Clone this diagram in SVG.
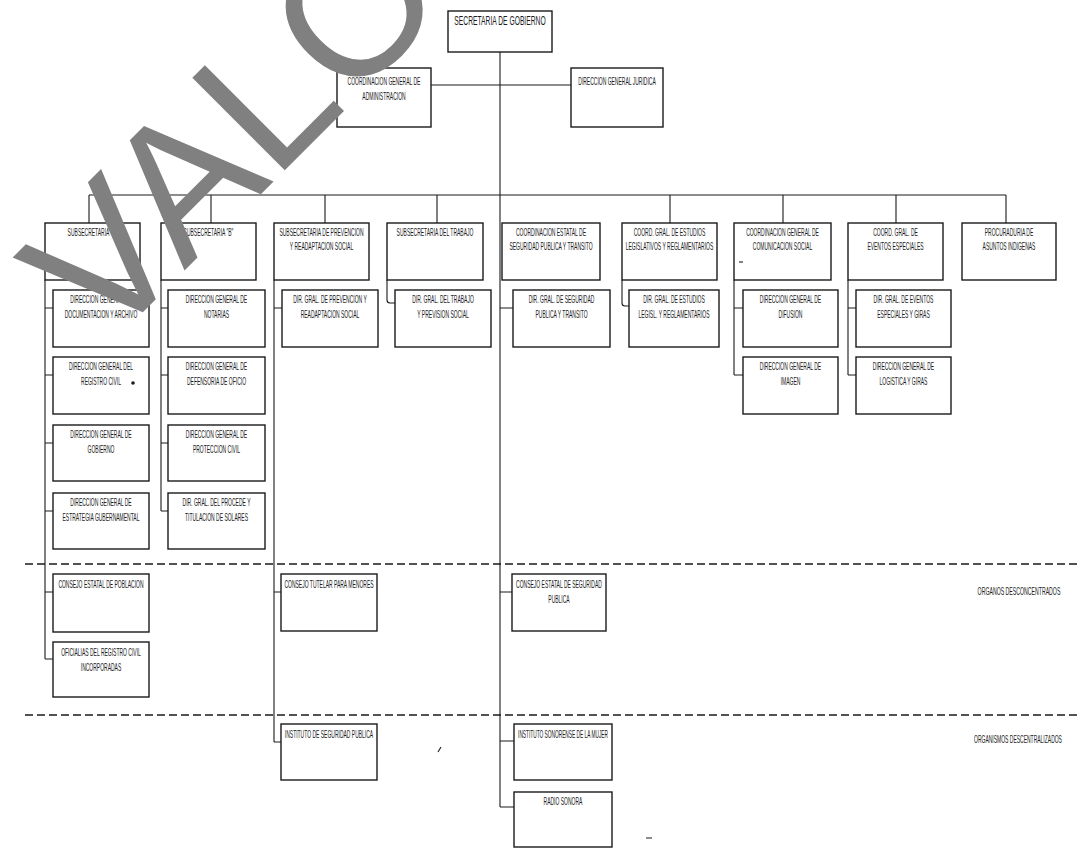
<svg xmlns="http://www.w3.org/2000/svg" width="1081" height="848" viewBox="0 0 1081 848">
<style>
.box{fill:#fff;stroke:#1a1a1a;stroke-width:1.4}
.t{font-family:"Liberation Sans",Arial,sans-serif;font-size:10px;fill:#1a1a1a;text-anchor:middle}
.ln{fill:none;stroke:#1a1a1a;stroke-width:1.1}
.dash{fill:none;stroke:#1a1a1a;stroke-width:1.4;stroke-dasharray:8 4}
.wm{font-family:"Liberation Sans",Arial,sans-serif;font-size:190px;fill:#808080}
</style>
<rect x="0" y="0" width="1081" height="848" fill="#fff"/>
<g id="connectors">
<path class="ln" d="M500,52 V807"/>
<path class="ln" d="M431,85 H571"/>
<path class="ln" d="M89,195 H1006"/>
<path class="ln" d="M89,195 V223 M211,195 V223 M325,195 V223 M437,195 V223 M670,195 V223 M783,195 V223 M896,195 V223 M1006,195 V223"/>
<path class="ln" d="M45,280 V659 M45,308 H53 M45,375 H53 M45,443 H53 M45,511 H53 M45,592 H53 M45,659 H53"/>
<path class="ln" d="M161,280 V511 M161,308 H168 M161,375 H168 M161,443 H168 M161,511 H168"/>
<path class="ln" d="M274,280 V742 M274,308 H282 M274,592 H281 M274,742 H281"/>
<path class="ln" d="M387,280 V300 Q387,303 390,303 H395"/>
<path class="ln" d="M500,308 H513 M500,592 H512 M500,741 H514 M500,807 H514"/>
<path class="ln" d="M622,280 V303 Q622,306 625,306 H629"/>
<path class="ln" d="M734,280 V375 M734,308 H743 M734,375 H743"/>
<path class="ln" d="M848,280 V375 M848,308 H856 M848,375 H856"/>
<path class="dash" d="M25,564 H1081"/>
<path class="dash" d="M25,715 H1081"/>
</g>
<g id="n-sg"><rect class="box" x="448" y="11" width="104" height="41"/><text class="t" x="500" y="25" style="font-size:12px" transform="matrix(.56 0 0 1 220 0)">SECRETARIA DE GOBIERNO</text></g>
<g id="n-cga"><rect class="box" x="337" y="68" width="94" height="59"/><text class="t" x="384" y="85" transform="matrix(.5 0 0 1 192 0)">COORDINACION GENERAL DE</text><text class="t" x="384" y="100" transform="matrix(.5 0 0 1 192 0)">ADMINISTRACION</text></g>
<g id="n-dgj"><rect class="box" x="571" y="68" width="92" height="59"/><text class="t" x="617" y="85" transform="matrix(.5 0 0 1 308.5 0)">DIRECCION GENERAL JURIDICA</text></g>
<g id="n-ssa"><rect class="box" x="45" y="223" width="95" height="57"/><text class="t" x="92.5" y="236" transform="matrix(.5 0 0 1 46.25 0)">SUBSECRETARIA "A"</text></g>
<g id="n-ssb"><rect class="box" x="161" y="223" width="95" height="57"/><text class="t" x="208.5" y="236" transform="matrix(.5 0 0 1 104.25 0)">SUBSECRETARIA "B"</text></g>
<g id="n-sspr"><rect class="box" x="274" y="223" width="95" height="57"/><text class="t" x="321.5" y="236" transform="matrix(.5 0 0 1 160.75 0)">SUBSECRETARIA DE PREVENCION</text><text class="t" x="321.5" y="250" transform="matrix(.5 0 0 1 160.75 0)">Y READAPTACION SOCIAL</text></g>
<g id="n-sst"><rect class="box" x="387" y="223" width="96" height="57"/><text class="t" x="435" y="236" transform="matrix(.5 0 0 1 217.5 0)">SUBSECRETARIA DEL TRABAJO</text></g>
<g id="n-cesp"><rect class="box" x="502" y="223" width="98" height="57"/><text class="t" x="551" y="236" transform="matrix(.5 0 0 1 275.5 0)">COORDINACION ESTATAL DE</text><text class="t" x="551" y="250" transform="matrix(.5 0 0 1 275.5 0)">SEGURIDAD PUBLICA Y TRANSITO</text></g>
<g id="n-cgel"><rect class="box" x="622" y="223" width="95" height="57"/><text class="t" x="669.5" y="236" transform="matrix(.5 0 0 1 334.75 0)">COORD. GRAL. DE ESTUDIOS</text><text class="t" x="669.5" y="250" transform="matrix(.5 0 0 1 334.75 0)">LEGISLATIVOS Y REGLAMENTARIOS</text></g>
<g id="n-cgcs"><rect class="box" x="734" y="223" width="97" height="57"/><text class="t" x="782.5" y="236" transform="matrix(.5 0 0 1 391.25 0)">COORDINACION GENERAL DE</text><text class="t" x="782.5" y="250" transform="matrix(.5 0 0 1 391.25 0)">COMUNICACION SOCIAL</text><path class="ln" d="M739,262 H743"/></g>
<g id="n-cgee"><rect class="box" x="848" y="223" width="95" height="57"/><text class="t" x="895.5" y="236" transform="matrix(.5 0 0 1 447.75 0)">COORD. GRAL. DE</text><text class="t" x="895.5" y="250" transform="matrix(.5 0 0 1 447.75 0)">EVENTOS ESPECIALES</text></g>
<g id="n-pai"><rect class="box" x="962" y="223" width="94" height="57"/><text class="t" x="1009" y="236" transform="matrix(.5 0 0 1 504.5 0)">PROCURADURIA DE</text><text class="t" x="1009" y="250" transform="matrix(.5 0 0 1 504.5 0)">ASUNTOS INDIGENAS</text></g>
<g id="n-dgda"><rect class="box" x="53" y="290" width="96" height="57"/><text class="t" x="101" y="303" transform="matrix(.5 0 0 1 50.5 0)">DIRECCION GENERAL DE</text><text class="t" x="101" y="318" transform="matrix(.5 0 0 1 50.5 0)">DOCUMENTACION Y ARCHIVO</text></g>
<g id="n-dgrc"><rect class="box" x="53" y="357" width="96" height="57"/><text class="t" x="101" y="370" transform="matrix(.5 0 0 1 50.5 0)">DIRECCION GENERAL DEL</text><text class="t" x="101" y="385" transform="matrix(.5 0 0 1 50.5 0)">REGISTRO CIVIL</text><circle cx="133" cy="383" r="1.8" fill="#1a1a1a"/></g>
<g id="n-dgg"><rect class="box" x="53" y="425" width="96" height="56"/><text class="t" x="101" y="438" transform="matrix(.5 0 0 1 50.5 0)">DIRECCION GENERAL DE</text><text class="t" x="101" y="453" transform="matrix(.5 0 0 1 50.5 0)">GOBIERNO</text></g>
<g id="n-dgeg"><rect class="box" x="53" y="493" width="96" height="56"/><text class="t" x="101" y="506" transform="matrix(.5 0 0 1 50.5 0)">DIRECCION GENERAL DE</text><text class="t" x="101" y="521" transform="matrix(.5 0 0 1 50.5 0)">ESTRATEGIA GUBERNAMENTAL</text></g>
<g id="n-cep"><rect class="box" x="53" y="574" width="96" height="58"/><text class="t" x="101" y="588" transform="matrix(.5 0 0 1 50.5 0)">CONSEJO ESTATAL DE POBLACION</text></g>
<g id="n-orc"><rect class="box" x="53" y="642" width="96" height="55"/><text class="t" x="101" y="656" transform="matrix(.5 0 0 1 50.5 0)">OFICIALIAS DEL REGISTRO CIVIL</text><text class="t" x="101" y="671" transform="matrix(.5 0 0 1 50.5 0)">INCORPORADAS</text></g>
<g id="n-dgn"><rect class="box" x="168" y="290" width="97" height="57"/><text class="t" x="216.5" y="303" transform="matrix(.5 0 0 1 108.25 0)">DIRECCION GENERAL DE</text><text class="t" x="216.5" y="318" transform="matrix(.5 0 0 1 108.25 0)">NOTARIAS</text></g>
<g id="n-dgdo"><rect class="box" x="168" y="357" width="97" height="57"/><text class="t" x="216.5" y="370" transform="matrix(.5 0 0 1 108.25 0)">DIRECCION GENERAL DE</text><text class="t" x="216.5" y="385" transform="matrix(.5 0 0 1 108.25 0)">DEFENSORIA DE OFICIO</text></g>
<g id="n-dgpc"><rect class="box" x="168" y="425" width="97" height="56"/><text class="t" x="216.5" y="438" transform="matrix(.5 0 0 1 108.25 0)">DIRECCION GENERAL DE</text><text class="t" x="216.5" y="453" transform="matrix(.5 0 0 1 108.25 0)">PROTECCION CIVIL</text></g>
<g id="n-dgpts"><rect class="box" x="168" y="493" width="97" height="56"/><text class="t" x="216.5" y="506" transform="matrix(.5 0 0 1 108.25 0)">DIR. GRAL. DEL PROCEDE Y</text><text class="t" x="216.5" y="521" transform="matrix(.5 0 0 1 108.25 0)">TITULACION DE SOLARES</text></g>
<g id="n-dgprs"><rect class="box" x="282" y="290" width="96" height="57"/><text class="t" x="330" y="303" transform="matrix(.5 0 0 1 165 0)">DIR. GRAL. DE PREVENCION Y</text><text class="t" x="330" y="318" transform="matrix(.5 0 0 1 165 0)">READAPTACION SOCIAL</text></g>
<g id="n-ctm"><rect class="box" x="281" y="574" width="96" height="57"/><text class="t" x="329" y="588" transform="matrix(.5 0 0 1 164.5 0)">CONSEJO TUTELAR PARA MENORES</text></g>
<g id="n-isp"><rect class="box" x="281" y="724" width="96" height="56"/><text class="t" x="329" y="738" transform="matrix(.5 0 0 1 164.5 0)">INSTITUTO DE SEGURIDAD PUBLICA</text></g>
<g id="n-dgtps"><rect class="box" x="395" y="290" width="96" height="57"/><text class="t" x="443" y="303" transform="matrix(.5 0 0 1 221.5 0)">DIR. GRAL. DEL TRABAJO</text><text class="t" x="443" y="318" transform="matrix(.5 0 0 1 221.5 0)">Y PREVISION SOCIAL</text></g>
<g id="n-dgspt"><rect class="box" x="513" y="290" width="97" height="57"/><text class="t" x="561.5" y="303" transform="matrix(.5 0 0 1 280.75 0)">DIR. GRAL. DE SEGURIDAD</text><text class="t" x="561.5" y="318" transform="matrix(.5 0 0 1 280.75 0)">PUBLICA Y TRANSITO</text></g>
<g id="n-cesp2"><rect class="box" x="512" y="574" width="94" height="57"/><text class="t" x="559" y="588" transform="matrix(.5 0 0 1 279.5 0)">CONSEJO ESTATAL DE SEGURIDAD</text><text class="t" x="559" y="603" transform="matrix(.5 0 0 1 279.5 0)">PUBLICA</text></g>
<g id="n-ism"><rect class="box" x="514" y="724" width="98" height="56"/><text class="t" x="563" y="738" transform="matrix(.48 0 0 1 292.76 0)">INSTITUTO SONORENSE DE LA MUJER</text></g>
<g id="n-rs"><rect class="box" x="514" y="792" width="98" height="55"/><text class="t" x="563" y="805" transform="matrix(.5 0 0 1 281.5 0)">RADIO SONORA</text></g>
<g id="n-dgelr"><rect class="box" x="629" y="290" width="90" height="57"/><text class="t" x="674" y="303" transform="matrix(.5 0 0 1 337 0)">DIR. GRAL. DE ESTUDIOS</text><text class="t" x="674" y="318" transform="matrix(.5 0 0 1 337 0)">LEGISL. Y REGLAMENTARIOS</text></g>
<g id="n-dgdif"><rect class="box" x="743" y="290" width="95" height="57"/><text class="t" x="790.5" y="303" transform="matrix(.5 0 0 1 395.25 0)">DIRECCION GENERAL DE</text><text class="t" x="790.5" y="318" transform="matrix(.5 0 0 1 395.25 0)">DIFUSION</text></g>
<g id="n-dgim"><rect class="box" x="743" y="357" width="95" height="57"/><text class="t" x="790.5" y="370" transform="matrix(.5 0 0 1 395.25 0)">DIRECCION GENERAL DE</text><text class="t" x="790.5" y="385" transform="matrix(.5 0 0 1 395.25 0)">IMAGEN</text></g>
<g id="n-dgeeg"><rect class="box" x="856" y="290" width="95" height="57"/><text class="t" x="903.5" y="303" transform="matrix(.5 0 0 1 451.75 0)">DIR. GRAL. DE EVENTOS</text><text class="t" x="903.5" y="318" transform="matrix(.5 0 0 1 451.75 0)">ESPECIALES Y GIRAS</text></g>
<g id="n-dglg"><rect class="box" x="856" y="357" width="95" height="57"/><text class="t" x="903.5" y="370" transform="matrix(.5 0 0 1 451.75 0)">DIRECCION GENERAL DE</text><text class="t" x="903.5" y="385" transform="matrix(.5 0 0 1 451.75 0)">LOGISTICA Y GIRAS</text></g>
<g id="labels">
<text class="t" x="1019" y="595" transform="matrix(.52 0 0 1 489.12 0)">ORGANOS DESCONCENTRADOS</text>
<text class="t" x="1018" y="743" transform="matrix(.5 0 0 1 509 0)">ORGANISMOS DESCENTRALIZADOS</text>
</g>
<path class="ln" d="M646,838 H652 M438,752 L441,747"/>
<text class="wm" x="0" y="0" transform="translate(104.5,350.5) rotate(-45)">VALO</text>
</svg>
